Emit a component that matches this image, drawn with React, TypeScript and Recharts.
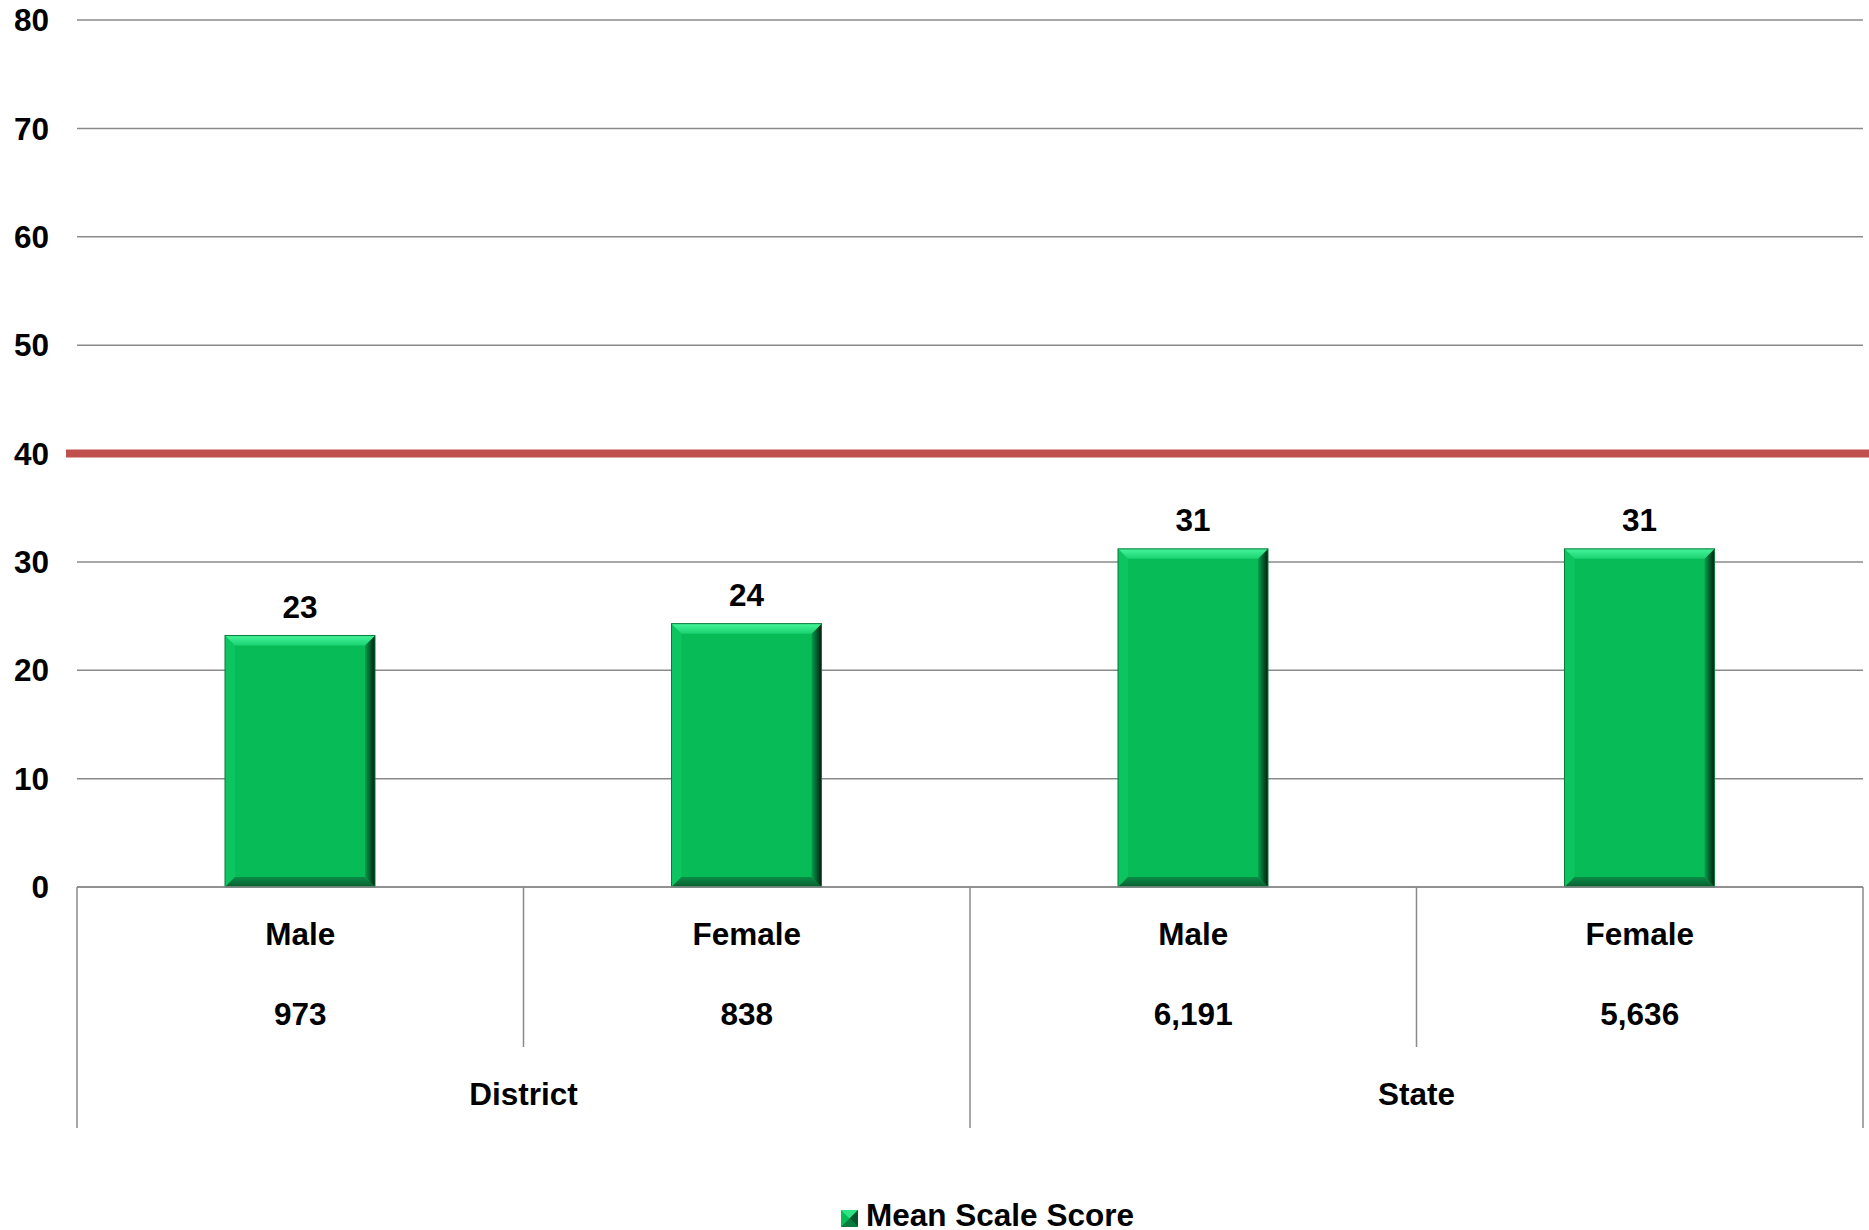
import React from "react"
import {
  Bar,
  BarChart,
  CartesianGrid,
  LabelList,
  Legend,
  ReferenceLine,
  XAxis,
  YAxis,
} from "recharts"

const genders = ["Male", "Female", "Male", "Female"]
const counts = ["973", "838", "6,191", "5,636"]
const groups = ["District", "District", "State", "State"]
const scores = [23.2, 24.3, 31.2, 31.2]
const target = 40
const yTicks = [0, 10, 20, 30, 40, 50, 60, 70, 80]

const data = genders.map((g, i) => ({
  key: `${groups[i]}-${g}`,
  gender: g,
  count: counts[i],
  group: groups[i],
  score: scores[i],
}))

const W = 1869
const H = 1230
const LEFT = 77
const RIGHT = 6
const AXIS_H = 241
const FONT = "'Liberation Sans', Arial, sans-serif"
const band = (W - LEFT - RIGHT) / data.length

const textStyle = { fontFamily: FONT, fontWeight: 700, fontSize: 31.5, fill: "#000" }

function BevelBar(props: any) {
  const { x, y, width: w, height: h, index } = props
  if (!h || h <= 0) return null
  const b = 10
  const id = `bar${index}`
  return (
    <g>
      <defs>
        <linearGradient id={`${id}-r`} x1="0" y1="0" x2="1" y2="0">
          <stop offset="0%" stopColor="#06A04B" />
          <stop offset="100%" stopColor="#011F0F" />
        </linearGradient>
        <linearGradient id={`${id}-t`} x1="0" y1="0" x2="0" y2="1">
          <stop offset="0%" stopColor="#45F59A" />
          <stop offset="100%" stopColor="#1AD271" />
        </linearGradient>
        <linearGradient id={`${id}-b`} x1="0" y1="0" x2="0" y2="1">
          <stop offset="0%" stopColor="#0A8C45" />
          <stop offset="100%" stopColor="#085E30" />
        </linearGradient>
      </defs>
      <rect x={x} y={y} width={w} height={h} fill="#07BB57" />
      <polygon points={`${x},${y} ${x + b},${y + b} ${x + b},${y + h - b} ${x},${y + h}`} fill="#0CC561" />
      <polygon points={`${x},${y + h} ${x + b},${y + h - b} ${x + w - b},${y + h - b} ${x + w},${y + h}`} fill={`url(#${id}-b)`} />
      <polygon points={`${x + w},${y} ${x + w},${y + h} ${x + w - b},${y + h - b} ${x + w - b},${y + b}`} fill={`url(#${id}-r)`} />
      <polygon points={`${x},${y} ${x + w},${y} ${x + w - b},${y + b} ${x + b},${y + b}`} fill={`url(#${id}-t)`} />
      <rect x={x} y={y} width={w} height={h} fill="none" stroke="#067a3a" strokeWidth={1} />
    </g>
  )
}

function TargetLine(props: any) {
  const { x1, x2, y1 } = props
  return (
    <g>
      <defs>
        <filter id="tshadow" x="-5%" y="-200%" width="110%" height="500%">
          <feGaussianBlur stdDeviation="2.5" />
        </filter>
      </defs>
      <line x1={x1 - 11} x2={x2 + 6} y1={y1 + 5} y2={y1 + 5} stroke="#000" strokeOpacity={0.25} strokeWidth={6} filter="url(#tshadow)" />
      <line x1={x1 - 11} x2={x2 + 6} y1={y1} y2={y1} stroke="#C0504D" strokeWidth={8} />
    </g>
  )
}

function CategoryTick(props: any) {
  const { x, y, index } = props
  const d = data[index]
  if (!d) return null
  const left = x - band / 2
  const isGroupStart = index === 0 || groups[index - 1] !== groups[index]
  const isLast = index === data.length - 1
  const gridStroke = "#8a8a8a"
  return (
    <g>
      <line x1={left} x2={left} y1={y} y2={y + (isGroupStart ? AXIS_H : 160)} stroke={gridStroke} strokeWidth={1.5} />
      {isLast && (
        <line x1={left + band} x2={left + band} y1={y} y2={y + AXIS_H} stroke={gridStroke} strokeWidth={1.5} />
      )}
      <text x={x} y={y + 47} dy="0.36em" textAnchor="middle" style={textStyle}>
        {d.gender}
      </text>
      <text x={x} y={y + 127} dy="0.36em" textAnchor="middle" style={textStyle}>
        {d.count}
      </text>
      {isGroupStart && (
        <text x={left + band} y={y + 207} dy="0.36em" textAnchor="middle" style={textStyle}>
          {d.group}
        </text>
      )}
    </g>
  )
}

function LegendContent() {
  return (
    <div
      style={{
        height: 102,
        display: "flex",
        alignItems: "flex-end",
        justifyContent: "center",
        paddingLeft: 112,
        boxSizing: "border-box",
        paddingBottom: 0,
      }}
    >
      <svg width={17} height={17} style={{ marginRight: 8, marginBottom: 3 }}>
        <rect x={0} y={0} width={17} height={17} fill="#07BB57" />
        <polygon points="0,0 17,0 8.5,8.5" fill="#2EE383" />
        <polygon points="17,0 17,17 8.5,8.5" fill="#03562A" />
        <polygon points="0,17 17,17 8.5,8.5" fill="#0A7A3E" />
      </svg>
      <span style={{ fontFamily: FONT, fontWeight: 700, fontSize: 31.5, color: "#000", lineHeight: "29px" }}>
        Mean Scale Score
      </span>
    </div>
  )
}

export default function App() {
  return (
    <div style={{ position: "absolute", left: 0, top: 0, width: W, height: H, background: "#fff" }}>
      <BarChart width={W} height={H} data={data} margin={{ top: 20, right: RIGHT, left: 0, bottom: 0 }}>
        <CartesianGrid vertical={false} stroke="#8a8a8a" strokeWidth={1.5} />
        <XAxis
          dataKey="key"
          height={AXIS_H}
          axisLine={{ stroke: "#8a8a8a", strokeWidth: 1.5 }}
          tickLine={false}
          tickSize={0}
          tickMargin={0}
          interval={0}
          tick={<CategoryTick />}
        />
        <YAxis
          width={LEFT}
          domain={[0, 80]}
          ticks={yTicks}
          axisLine={false}
          tickLine={false}
          tickMargin={22}
          tick={textStyle}
        />
        <Legend verticalAlign="bottom" height={102} content={<LegendContent />} />
        <Bar dataKey="score" name="Mean Scale Score" barSize={150} shape={<BevelBar />} isAnimationActive={false}>
          <LabelList
            dataKey="score"
            position="top"
            offset={18}
            formatter={(v: any) => Math.round(Number(v))}
            style={textStyle}
          />
        </Bar>
        <ReferenceLine y={target} shape={<TargetLine />} ifOverflow="visible" />
      </BarChart>
    </div>
  )
}
